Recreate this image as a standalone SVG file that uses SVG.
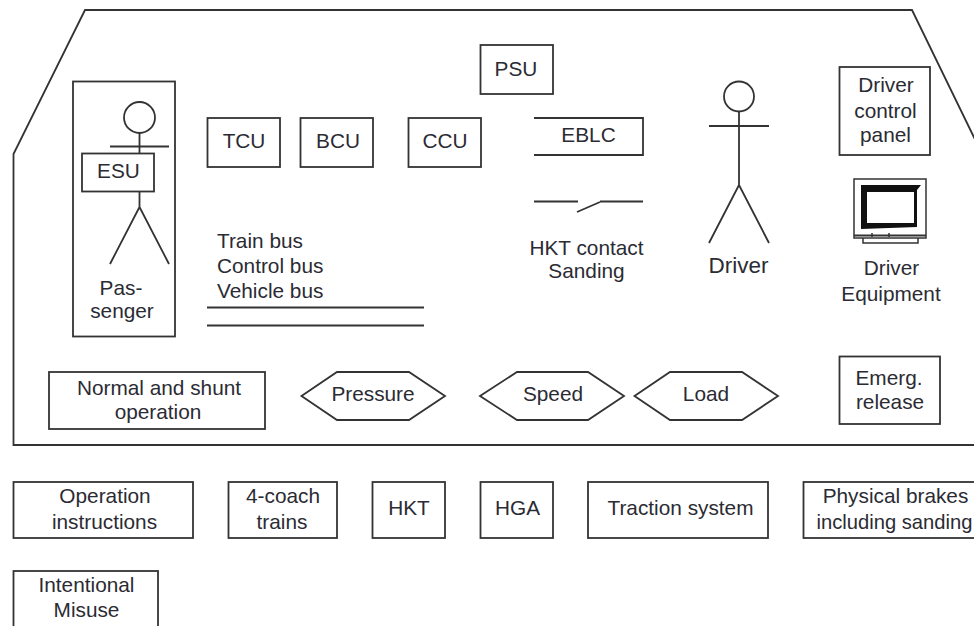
<svg xmlns="http://www.w3.org/2000/svg" width="974" height="626" viewBox="0 0 974 626">
<style>
.s{fill:none;stroke:#333;stroke-width:1.8}
.b{fill:#fff;stroke:#333;stroke-width:1.8}
.t{font-family:"Liberation Sans",Arial,sans-serif;font-size:20.8px;fill:#2b2b33;text-anchor:middle}
.l{text-anchor:start}
</style>
<rect width="974" height="626" fill="#fff"/>
<g id="connectors">
<path class="s" d="M985 160L912 10H85L13.500 154V445H985"/>
<path class="s" d="M207 307.500H424M207 325.500H424"/>
</g>
<g id="passenger">
<rect class="s" x="73" y="81.500" width="102" height="255"/>
<circle class="s" cx="139.500" cy="117.500" r="15.500"/>
<path class="s" d="M139.500 133V207M110 146.500H169M110 264L139.500 207L169 264"/>
<text class="t" x="121" y="295">Pas-</text>
<text class="t" x="122" y="318">senger</text>
</g>
<g id="esu"><rect class="b" x="82" y="153.500" width="72" height="38"/><text class="t" x="118.500" y="178">ESU</text></g>
<g id="tcu"><rect class="b" x="207.500" y="118" width="72.500" height="49"/><text class="t" x="244" y="148">TCU</text></g>
<g id="bcu"><rect class="b" x="300.500" y="118" width="72.500" height="49"/><text class="t" x="338" y="148">BCU</text></g>
<g id="ccu"><rect class="b" x="408.500" y="118" width="72.500" height="49"/><text class="t" x="445" y="148">CCU</text></g>
<g id="psu"><rect class="b" x="480.500" y="45" width="72.500" height="49"/><text class="t" x="516" y="76">PSU</text></g>
<g id="buses">
<text class="t l" x="217" y="248">Train bus</text>
<text class="t l" x="217" y="273">Control bus</text>
<text class="t l" x="217" y="298">Vehicle bus</text>
</g>
<g id="eblc"><path class="s" d="M534 118H643V155H534"/><text class="t" x="588.500" y="142">EBLC</text></g>
<g id="hkt-contact">
<path class="s" d="M534 201.500H578M600 201.500H643M577 212L600 202"/>
<text class="t" x="586.500" y="255">HKT contact</text>
<text class="t" x="586.500" y="278">Sanding</text>
</g>
<g id="driver">
<circle class="s" cx="739" cy="96.500" r="15"/>
<path class="s" d="M739 111.500V185M709 126H769M709 243L739 185L769 243"/>
<text class="t" x="738.500" y="273" style="font-size:22.500px">Driver</text>
</g>
<g id="driver-control-panel">
<rect class="b" x="839.500" y="67" width="90.500" height="88"/>
<text class="t" x="886" y="92">Driver</text>
<text class="t" x="885.500" y="118">control</text>
<text class="t" x="885.500" y="142">panel</text>
</g>
<g id="driver-equipment">
<rect x="854" y="179" width="72" height="59" fill="#fff" stroke="#333" stroke-width="1.500"/>
<path d="M861 185H921L917 190V227L861 229ZM867 192V223H914V192Z" fill="#111" fill-rule="evenodd"/>
<path d="M854 235.500H926" stroke="#333" stroke-width="2" fill="none"/>
<path d="M863 238V243H918V238M872 233V237M889 233V237" stroke="#333" stroke-width="1.500" fill="none"/>
<text class="t" x="891.500" y="275">Driver</text>
<text class="t" x="891" y="301">Equipment</text>
</g>
<g id="normal"><rect class="b" x="49" y="372" width="216" height="57"/>
<text class="t" x="159" y="395">Normal and shunt</text><text class="t" x="158" y="419">operation</text></g>
<g id="pressure"><path class="b" d="M301.500 396L337 372H409L445 396L409 420H337Z"/><text class="t" x="373" y="401">Pressure</text></g>
<g id="speed"><path class="b" d="M480 396L517 372H588L624 396L588 420H517Z"/><text class="t" x="553" y="401">Speed</text></g>
<g id="load"><path class="b" d="M634.500 396L670 372H742L778 396L742 420H670Z"/><text class="t" x="706" y="401">Load</text></g>
<g id="emerg"><rect class="b" x="839.500" y="356.500" width="100.500" height="67.500"/>
<text class="t" x="889" y="385">Emerg.</text><text class="t" x="890" y="409">release</text></g>
<g id="operation"><rect class="b" x="13.500" y="482" width="179.500" height="56"/>
<text class="t" x="105" y="503">Operation</text><text class="t" x="104.500" y="529">instructions</text></g>
<g id="coach"><rect class="b" x="228.500" y="482" width="108.500" height="56"/>
<text class="t" x="283" y="503">4-coach</text><text class="t" x="282" y="529">trains</text></g>
<g id="hkt"><rect class="b" x="372.500" y="482" width="72.500" height="56"/><text class="t" x="409" y="515">HKT</text></g>
<g id="hga"><rect class="b" x="480.500" y="482" width="72.500" height="56"/><text class="t" x="517.500" y="515">HGA</text></g>
<g id="traction"><rect class="b" x="588" y="482" width="180" height="56"/><text class="t" x="680.500" y="515">Traction system</text></g>
<g id="brakes"><rect class="b" x="803.500" y="482" width="190" height="56"/>
<text class="t" x="895.500" y="503">Physical brakes</text><text class="t" x="894.500" y="529" style="font-size:20.200px">including sanding</text></g>
<g id="misuse"><rect class="b" x="13.500" y="571" width="144.500" height="70"/>
<text class="t" x="86.500" y="592">Intentional</text><text class="t" x="86.500" y="617">Misuse</text></g>
</svg>
